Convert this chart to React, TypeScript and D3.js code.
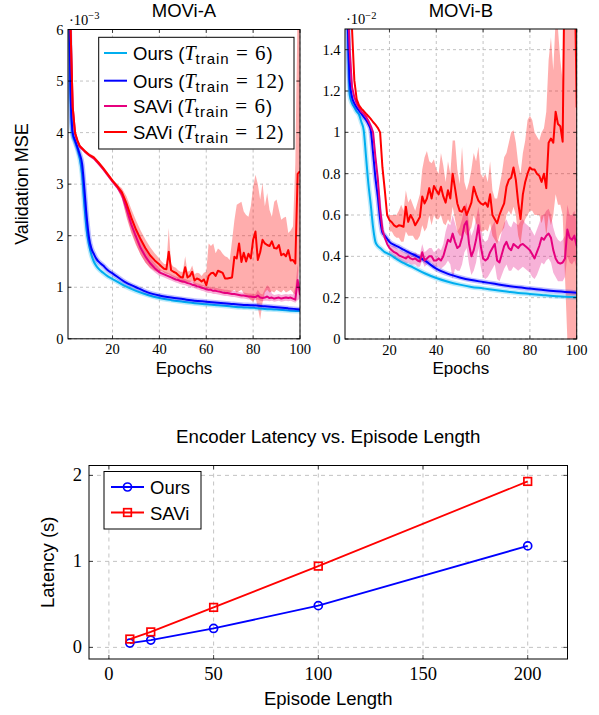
import React from 'react';
import * as d3 from 'd3';

// ---------------- DATA ----------------
// MOVi-A (values ×1e-3)
const oursEpochsA = [1,2,3,4,5,6,7,8,9,10,11,12,13,14,16,18,20,25,30,35,40,45,50,55,60,65,70,75,80,85,90,95,100];
const oursA12 = [8,5.0,4.0,3.85,3.72,3.58,3.4,2.9,2.35,1.95,1.75,1.65,1.56,1.5,1.42,1.33,1.27,1.11,1.0,0.9,0.84,0.8,0.77,0.74,0.72,0.7,0.68,0.66,0.65,0.63,0.61,0.59,0.57];
const oursA6 = [8,4.8,3.95,3.82,3.68,3.5,3.2,2.6,2.1,1.82,1.62,1.5,1.42,1.36,1.28,1.21,1.16,1.03,0.93,0.85,0.79,0.75,0.72,0.69,0.67,0.65,0.63,0.61,0.6,0.58,0.57,0.55,0.54];

const saviEpochsA = [1,2,3,4,5,6,8,10,12,14,16,18,20,22,24,26,28,30,32,34,36,38,40, ...d3.range(41, 101)];
const saviA12 = [9,6.2,4.5,4.0,3.85,3.74,3.65,3.57,3.52,3.42,3.31,3.19,3.07,2.96,2.84,2.62,2.35,2.12,1.93,1.76,1.62,1.52,1.44,
  1.40,1.36,1.35,1.69,1.33,1.30,1.28,1.24,1.20,1.19, 1.39,1.19,1.22,1.30,1.13,1.17,1.15,1.11,1.15,1.04,
  1.22,1.27,1.28,1.22,1.32,1.30,1.28,1.17,1.17,1.18, 1.19,1.59,1.56,1.85,1.49,1.67,1.50,1.65,1.56,1.92,
  2.08,1.53,1.68,1.92,1.85,1.82,1.80,1.89,1.76,1.75, 1.82,1.62,1.65,1.60,1.72,1.52,1.53,1.46,3.2,3.25];
const saviA12Lo = [9,6.2,4.47,3.97,3.82,3.71,3.62,3.54,3.49,3.39,3.28,3.16,3.04,2.92,2.72,2.35,2.05,1.82,1.63,1.48,1.38,1.32,1.28,
  1.32,1.28,1.26,1.25,1.22,1.20,1.18,1.15,1.10,1.08, 1.12,1.08,1.10,1.12,1.03,1.05,1.03,1.00,1.02,0.95,
  0.98,0.95,0.97,0.92,0.95,0.90,0.93,0.90,0.90,0.90, 0.92,0.95,0.90,0.92,0.95,0.88,0.85,0.80,0.75,0.72,
  0.80,0.60,0.37,0.70,0.90,0.95,0.90,0.92,0.90,0.95, 0.92,0.90,0.95,0.90,0.92,0.95,0.90,0.85,1.10,1.50];
const saviA12Hi = [9,6.2,4.53,4.03,3.88,3.77,3.68,3.6,3.55,3.45,3.34,3.22,3.1,3.0,2.92,2.76,2.52,2.3,2.1,1.93,1.78,1.66,1.56,
  1.50,1.45,1.45,2.15,1.45,1.40,1.38,1.33,1.30,1.30, 1.60,1.30,1.32,1.42,1.25,1.28,1.27,1.22,1.28,1.30,
  1.85,1.80,1.85,1.66,1.75,1.72,1.65,1.60,1.58,1.53, 1.90,2.30,2.60,2.63,2.66,2.47,2.40,2.37,2.57,2.95,
  3.18,3.00,2.70,3.02,2.57,2.83,2.50,2.37,2.66,2.70, 2.50,2.31,2.35,2.37,2.05,2.10,2.18,3.40,6.50,7.00];
const saviA6 = [9,6.2,4.5,3.98,3.84,3.73,3.64,3.56,3.5,3.4,3.29,3.17,3.05,2.94,2.8,2.52,2.22,1.98,1.76,1.6,1.47,1.37,1.29,
  1.27,1.25,1.23,1.21,1.19,1.17,1.15,1.14,1.12,1.11, 1.10,1.08,1.07,1.05,1.04,1.02,1.01,0.99,0.98,0.96,
  0.95,0.95,0.93,0.93,0.92,0.91,0.90,0.89,0.89,0.88, 0.87,0.87,0.86,0.85,0.84,0.84,0.83,0.82,0.82,0.81,
  0.81,0.84,0.80,0.79,0.80,0.82,0.79,0.80,0.78,0.79, 0.80,0.78,0.79,0.80,0.79,0.80,0.78,0.76,1.14,0.85];
const saviA6Lo = [9,6.2,4.47,3.95,3.81,3.7,3.61,3.53,3.47,3.37,3.26,3.14,3.02,2.9,2.72,2.38,2.08,1.84,1.63,1.48,1.37,1.29,1.22,
  1.21,1.19,1.17,1.15,1.13,1.11,1.09,1.08,1.06,1.05, 1.04,1.02,1.01,0.99,0.98,0.96,0.95,0.93,0.92,0.90,
  0.89,0.89,0.87,0.87,0.86,0.85,0.84,0.83,0.83,0.82, 0.81,0.81,0.80,0.79,0.78,0.78,0.77,0.76,0.76,0.75,
  0.75,0.76,0.74,0.73,0.74,0.74,0.73,0.74,0.72,0.73, 0.74,0.72,0.73,0.74,0.73,0.74,0.72,0.70,0.75,0.78];
const saviA6Hi = [9,6.2,4.53,4.01,3.87,3.76,3.67,3.59,3.53,3.43,3.32,3.2,3.08,2.98,2.88,2.66,2.38,2.14,1.92,1.74,1.58,1.47,1.37,
  1.33,1.31,1.29,1.27,1.25,1.23,1.21,1.20,1.18,1.17, 1.16,1.14,1.13,1.11,1.10,1.08,1.07,1.05,1.04,1.02,
  1.01,1.01,0.99,0.99,0.98,0.97,0.96,0.95,0.95,0.94, 0.93,0.93,0.92,0.91,0.90,0.90,0.89,0.88,0.88,0.87,
  0.87,0.95,0.88,0.86,0.96,1.04,1.00,0.88,0.85,0.86, 0.87,0.85,0.86,0.87,0.86,0.87,0.86,1.00,1.45,0.92];

// MOVi-B (values ×1e-2)
const oursEpochsB = [1,2,3,4,5,6,7,8,9,10,11,12,13,14,15,16,17,18,19,20,22,24,26,28,30,35,40,45,50,55,60,65,70,75,80,85,90,95,100];
const oursB6 = [2.0,1.6,1.18,1.14,1.12,1.1,1.085,1.05,1.01,0.88, 0.75,0.65,0.54,0.47,0.45,0.44,0.43,0.42,0.415,0.41,
  0.395,0.38,0.368,0.357,0.347,0.318,0.295,0.277,0.263,0.252, 0.245,0.237,0.23,0.223,0.218,0.213,0.208,0.205,0.202];
const oursB12 = [2.0,1.6,1.25,1.17,1.14,1.12,1.105,1.09,1.075,1.06, 1.04,1.01,0.9,0.78,0.69,0.58,0.515,0.5,0.485,0.47,
  0.455,0.445,0.432,0.42,0.41,0.38,0.34,0.315,0.298,0.285, 0.276,0.267,0.258,0.25,0.244,0.238,0.232,0.228,0.224];

const saviEpochsB = d3.range(1, 101);
const saviB12 = [2.2,1.9,1.65,1.5,1.25,1.16,1.13,1.115,1.103,1.09,
  1.078,1.065,1.05,1.037,1.022,1.0,0.83,0.72,0.6,0.575,
  0.565,0.55,0.543,0.55,0.548,0.543,0.64,0.567,0.6,0.58,
  0.55,0.57,0.59,0.69,0.656,0.68,0.73,0.68,0.74,0.72,
  0.7,0.737,0.69,0.66,0.72,0.68,0.8,0.73,0.656,0.62,
  0.616,0.64,0.6,0.63,0.66,0.737,0.7,0.67,0.656,0.65,
  0.66,0.64,0.7,0.6,0.58,0.56,0.6,0.63,0.656,0.737,
  0.77,0.78,0.83,0.77,0.66,0.58,0.7,0.76,0.8,0.83,
  0.82,0.82,0.8,0.79,0.76,0.8,0.73,0.95,0.97,0.95,
  1.1,1.04,1.03,0.955,2.0,2.2,2.2,2.1,1.9,1.12];
const saviB6 = [2.0,1.7,1.4,1.22,1.17,1.14,1.12,1.1,1.09,1.075,
  1.055,1.03,1.0,0.88,0.78,0.63,0.53,0.49,0.46,0.44,
  0.43,0.42,0.415,0.405,0.4,0.395,0.39,0.4,0.39,0.385,
  0.39,0.38,0.375,0.42,0.38,0.39,0.4,0.4,0.38,0.38,
  0.39,0.38,0.4,0.44,0.48,0.47,0.51,0.47,0.44,0.45,
  0.49,0.55,0.57,0.46,0.4,0.43,0.48,0.55,0.45,0.39,
  0.38,0.39,0.42,0.44,0.46,0.38,0.37,0.41,0.45,0.47,
  0.44,0.43,0.46,0.45,0.44,0.455,0.46,0.45,0.44,0.43,
  0.41,0.39,0.42,0.45,0.49,0.48,0.5,0.51,0.49,0.43,
  0.39,0.37,0.365,0.37,0.39,0.53,0.49,0.48,0.5,0.45];

const bandEpochsB = d3.range(20, 101);
const saviB12Hi = [0.6, 0.6,0.6,0.6,0.62,0.65,0.62,0.72,0.66,0.68,0.65,
  0.62,0.66,0.7,0.82,0.88,0.91,0.86,0.85,0.87,0.82,
  0.8,0.9,0.84,0.76,0.86,0.8,0.96,0.96,0.82,0.75,
  0.93,0.76,0.72,0.76,0.82,0.9,0.86,0.93,0.8,0.78,
  0.8,0.76,0.86,0.72,0.68,0.68,0.74,0.8,0.88,0.9,
  0.95,1.0,1.01,0.95,0.85,0.8,0.9,0.96,1.06,1.08,
  1.06,1.0,0.98,0.96,1.0,1.02,1.1,1.35,1.46,1.3,
  1.55,1.5,1.35,1.25,2.5,2.5,2.5,2.5,2.5,2.5];
const saviB12Lo = [0.52, 0.52,0.5,0.49,0.49,0.47,0.47,0.52,0.5,0.5,0.5,
  0.48,0.48,0.5,0.55,0.52,0.54,0.6,0.55,0.6,0.58,
  0.58,0.6,0.56,0.55,0.58,0.56,0.64,0.58,0.52,0.5,
  0.5,0.52,0.5,0.52,0.54,0.6,0.56,0.54,0.52,0.52,
  0.53,0.52,0.56,0.5,0.48,0.46,0.5,0.52,0.54,0.6,
  0.62,0.6,0.64,0.6,0.5,0.46,0.55,0.58,0.6,0.62,
  0.62,0.6,0.6,0.6,0.56,0.6,0.5,0.6,0.55,0.6,
  0.7,0.65,0.65,0.6,0.3,0,0,0,0,0];
const saviB6Hi = [0.46, 0.45,0.45,0.44,0.43,0.43,0.42,0.42,0.43,0.42,0.41,
  0.42,0.41,0.41,0.46,0.42,0.43,0.44,0.44,0.42,0.43,
  0.44,0.43,0.46,0.52,0.56,0.55,0.6,0.56,0.52,0.54,
  0.58,0.64,0.66,0.55,0.5,0.53,0.58,0.64,0.55,0.48,
  0.47,0.48,0.52,0.55,0.57,0.48,0.47,0.52,0.56,0.58,
  0.55,0.54,0.57,0.56,0.55,0.57,0.58,0.56,0.55,0.54,
  0.52,0.5,0.53,0.56,0.6,0.6,0.62,0.63,0.6,0.54,
  0.5,0.48,0.47,0.48,0.5,0.65,0.6,0.6,0.62,0.56];
const saviB6Lo = [0.41, 0.4,0.39,0.39,0.38,0.37,0.37,0.36,0.37,0.36,0.36,
  0.36,0.35,0.35,0.38,0.35,0.36,0.37,0.37,0.35,0.35,
  0.35,0.34,0.35,0.36,0.38,0.36,0.29,0.34,0.33,0.33,
  0.36,0.42,0.44,0.36,0.31,0.33,0.37,0.44,0.35,0.3,
  0.29,0.3,0.32,0.34,0.36,0.29,0.28,0.31,0.34,0.36,
  0.33,0.33,0.35,0.34,0.33,0.34,0.35,0.34,0.33,0.32,
  0.3,0.29,0.31,0.34,0.37,0.36,0.38,0.39,0.37,0.32,
  0.3,0.28,0.28,0.28,0.3,0.4,0.37,0.36,0.38,0.34];

const epochTicks = [20, 40, 60, 80, 100];
const yTicksA = [0, 1, 2, 3, 4, 5, 6];
const yTickLabelsA = ['0', '1', '2', '3', '4', '5', '6'];
const yTicksB = [0, 0.2, 0.4, 0.6, 0.8, 1, 1.2, 1.4];
const yTickLabelsB = ['0', '0.2', '0.4', '0.6', '0.8', '1', '1.2', '1.4'];

// Latency chart
const episodeLengths = [10, 20, 50, 100, 200];
const latencyOurs = [0.05, 0.085, 0.22, 0.485, 1.18];
const latencySAVi = [0.097, 0.18, 0.465, 0.945, 1.93];
const lengthTicks = [0, 50, 100, 150, 200];
const latencyTicks = [0, 1, 2];

// ---------------- STYLE ----------------
const SANS = "'Liberation Sans', Arial, sans-serif";
const SERIF = "'Liberation Serif', 'Times New Roman', serif";
const C_CYAN = '#00aeef';
const C_BLUE = '#0000ff';
const C_MAG = '#e6007e';
const C_RED = '#ff0000';
const GRID = '#b4b4b4';

type Series = { ex: number[]; ys: number[]; color: string; smooth?: boolean; halo?: boolean };
type Band = { ex: number[]; lo: number[]; hi: number[]; color: string; opacity: number };

function TopPanel(props: {
  id: string; x0: number; x1: number; y0: number; y1: number; yMax: number;
  yTicks: number[]; yLabels: string[]; exp: string; title: string;
  bands: Band[]; series: Series[];
}) {
  const { id, x0, x1, y0, y1, yMax } = props;
  const x = d3.scaleLinear().domain([1, 100]).range([x0, x1]);
  const y = d3.scaleLinear().domain([0, yMax]).range([y1, y0]);
  const cx = (x0 + x1) / 2;
  return (
    <g>
      <defs>
        <clipPath id={id}>
          <rect x={x0} y={y0} width={x1 - x0} height={y1 - y0} />
        </clipPath>
      </defs>
      {epochTicks.map((t) => (
        <line key={'gx' + t} x1={x(t)} x2={x(t)} y1={y0} y2={y1} stroke={GRID} strokeWidth={0.8} strokeDasharray="3,3" />
      ))}
      {props.yTicks.map((t) => (
        <line key={'gy' + t} x1={x0} x2={x1} y1={y(t)} y2={y(t)} stroke={GRID} strokeWidth={0.8} strokeDasharray="3,3" />
      ))}
      <g clipPath={`url(#${id})`}>
        {props.bands.map((b, i) => {
          const area = d3.area<number>()
            .x((_, k) => x(b.ex[k]))
            .y0((_, k) => y(b.lo[k]))
            .y1((_, k) => y(b.hi[k]));
          return <path key={'b' + i} d={area(b.lo) || ''} fill={b.color} fillOpacity={b.opacity} stroke="none" />;
        })}
        {props.series.map((s, i) => {
          const line = d3.line<number>()
            .x((_, k) => x(s.ex[k]))
            .y((v) => y(v))
            .curve(s.smooth ? d3.curveMonotoneX : d3.curveLinear);
          const d = line(s.ys) || '';
          return (
            <g key={'s' + i}>
              {s.halo && <path d={d} fill="none" stroke={s.color} strokeOpacity={0.25} strokeWidth={5} />}
              <path d={d} fill="none" stroke={s.color} strokeWidth={2} strokeLinejoin="round" />
            </g>
          );
        })}
      </g>
      <rect x={x0} y={y0} width={x1 - x0} height={y1 - y0} fill="none" stroke="#000" strokeWidth={1} />
      {epochTicks.map((t) => (
        <g key={'tx' + t}>
          <line x1={x(t)} x2={x(t)} y1={y1} y2={y1 - 3.5} stroke="#000" strokeWidth={0.7} />
          <line x1={x(t)} x2={x(t)} y1={y0} y2={y0 + 3.5} stroke="#000" strokeWidth={0.7} />
          <text x={x(t)} y={y1 + 15.5} textAnchor="middle" fontFamily={SERIF} fontSize={14.5}>{t}</text>
        </g>
      ))}
      {props.yTicks.map((t, i) => (
        <g key={'ty' + t}>
          <line x1={x0} x2={x0 + 3.5} y1={y(t)} y2={y(t)} stroke="#000" strokeWidth={0.7} />
          <line x1={x1} x2={x1 - 3.5} y1={y(t)} y2={y(t)} stroke="#000" strokeWidth={0.7} />
          <text x={x0 - 4.5} y={y(t) + 5} textAnchor="end" fontFamily={SERIF} fontSize={14.5}>{props.yLabels[i]}</text>
        </g>
      ))}
      <text x={x0 + 1} y={y0 - 5} fontFamily={SERIF} fontSize={14.5}>
        ·10<tspan fontSize={10.5} dy={-5.5}>{props.exp}</tspan>
      </text>
      <text x={cx} y={16.7} textAnchor="middle" fontFamily={SANS} fontSize={18.5}>{props.title}</text>
      <text x={cx} y={374} textAnchor="middle" fontFamily={SANS} fontSize={17}>Epochs</text>
    </g>
  );
}

function LegendEntry({ y, color, name, t }: { y: number; color: string; name: string; t: string }) {
  return (
    <g>
      <line x1={104} x2={127} y1={y} y2={y} stroke={color} strokeWidth={2} />
      <text x={133} y={y + 7} fontFamily={SANS} fontSize={18.5}>
        {name} (<tspan fontFamily={SERIF} fontStyle="italic" fontSize={20}>T</tspan>
        <tspan fontSize={15} letterSpacing={1} dy={4}>train</tspan>
        <tspan dy={-4} fontFamily={SERIF} fontSize={21} letterSpacing={1}>{' = ' + t}</tspan>)
      </text>
    </g>
  );
}

function LatencyChart() {
  const x0 = 89, x1 = 567.5, y0 = 465.5, y1 = 659;
  const x = d3.scaleLinear().domain([-9.5, 219]).range([x0, x1]);
  const y = d3.scaleLinear().domain([-0.135, 2.115]).range([y1, y0]);
  const line = d3.line<number>().x((_, k) => x(episodeLengths[k])).y((v) => y(v));
  return (
    <g>
      <text x={(x0 + x1) / 2} y={443} textAnchor="middle" fontFamily={SANS} fontSize={18.7}>Encoder Latency vs. Episode Length</text>
      {lengthTicks.map((t) => (
        <line key={'gx' + t} x1={x(t)} x2={x(t)} y1={y0} y2={y1} stroke={GRID} strokeWidth={0.8} strokeDasharray="4,4" />
      ))}
      {latencyTicks.map((t) => (
        <line key={'gy' + t} x1={x0} x2={x1} y1={y(t)} y2={y(t)} stroke={GRID} strokeWidth={0.8} strokeDasharray="4,4" />
      ))}
      <path d={line(latencyOurs) || ''} fill="none" stroke={C_BLUE} strokeWidth={1.8} />
      {latencyOurs.map((v, k) => (
        <circle key={'o' + k} cx={x(episodeLengths[k])} cy={y(v)} r={4} fill="none" stroke={C_BLUE} strokeWidth={1.7} />
      ))}
      <path d={line(latencySAVi) || ''} fill="none" stroke={C_RED} strokeWidth={1.8} />
      {latencySAVi.map((v, k) => (
        <rect key={'s' + k} x={x(episodeLengths[k]) - 3.8} y={y(v) - 3.8} width={7.6} height={7.6} fill="none" stroke={C_RED} strokeWidth={1.7} />
      ))}
      <rect x={x0} y={y0} width={x1 - x0} height={y1 - y0} fill="none" stroke="#000" strokeWidth={1} />
      {lengthTicks.map((t) => (
        <g key={'tx' + t}>
          <line x1={x(t)} x2={x(t)} y1={y1} y2={y1 - 4} stroke="#000" strokeWidth={0.7} />
          <line x1={x(t)} x2={x(t)} y1={y0} y2={y0 + 4} stroke="#000" strokeWidth={0.7} />
          <text x={x(t)} y={680} textAnchor="middle" fontFamily={SERIF} fontSize={18.5}>{t}</text>
        </g>
      ))}
      {latencyTicks.map((t) => (
        <g key={'ty' + t}>
          <line x1={x0} x2={x0 + 4} y1={y(t)} y2={y(t)} stroke="#000" strokeWidth={0.7} />
          <line x1={x1} x2={x1 - 4} y1={y(t)} y2={y(t)} stroke="#000" strokeWidth={0.7} />
          <text x={x0 - 7} y={y(t) + 6} textAnchor="end" fontFamily={SERIF} fontSize={18.5}>{t}</text>
        </g>
      ))}
      <text x={(x0 + x1) / 2} y={705} textAnchor="middle" fontFamily={SANS} fontSize={18.5}>Episode Length</text>
      <text transform={`translate(54,${(y0 + y1) / 2}) rotate(-90)`} textAnchor="middle" fontFamily={SANS} fontSize={18.5}>Latency (s)</text>
      <rect x={104} y={471.5} width={97} height={57.5} fill="#fff" stroke="#000" strokeWidth={1} />
      <line x1={111} x2={144} y1={487} y2={487} stroke={C_BLUE} strokeWidth={1.8} />
      <circle cx={127.5} cy={487} r={4} fill="none" stroke={C_BLUE} strokeWidth={1.7} />
      <text x={150} y={494} fontFamily={SANS} fontSize={18.5}>Ours</text>
      <line x1={111} x2={144} y1={512.5} y2={512.5} stroke={C_RED} strokeWidth={1.8} />
      <rect x={127.5 - 3.8} y={512.5 - 3.8} width={7.6} height={7.6} fill="none" stroke={C_RED} strokeWidth={1.7} />
      <text x={150} y={519.5} fontFamily={SANS} fontSize={18.5}>SAVi</text>
    </g>
  );
}

export default function App() {
  const bandsA: Band[] = [
    { ex: saviEpochsA, lo: saviA6Lo, hi: saviA6Hi, color: C_MAG, opacity: 0.3 },
    { ex: saviEpochsA, lo: saviA12Lo, hi: saviA12Hi, color: C_RED, opacity: 0.32 },
  ];
  const seriesA: Series[] = [
    { ex: oursEpochsA, ys: oursA6, color: C_CYAN, smooth: true, halo: true },
    { ex: oursEpochsA, ys: oursA12, color: C_BLUE, smooth: true, halo: true },
    { ex: saviEpochsA, ys: saviA6, color: C_MAG },
    { ex: saviEpochsA, ys: saviA12, color: C_RED },
  ];
  const bandsB: Band[] = [
    { ex: bandEpochsB, lo: saviB6Lo, hi: saviB6Hi, color: C_MAG, opacity: 0.3 },
    { ex: bandEpochsB, lo: saviB12Lo, hi: saviB12Hi, color: C_RED, opacity: 0.32 },
  ];
  const seriesB: Series[] = [
    { ex: oursEpochsB, ys: oursB6, color: C_CYAN, smooth: true, halo: true },
    { ex: oursEpochsB, ys: oursB12, color: C_BLUE, smooth: true, halo: true },
    { ex: saviEpochsB, ys: saviB6, color: C_MAG },
    { ex: saviEpochsB, ys: saviB12, color: C_RED },
  ];
  return (
    <svg width={599} height={715} viewBox="0 0 599 715"
      style={{ position: 'absolute', left: 0, top: 0, background: '#fff' }}>
      <rect x={0} y={0} width={599} height={715} fill="#fff" />
      <TopPanel id="clipA" x0={68} x1={300} y0={29.5} y1={338.8} yMax={6}
        yTicks={yTicksA} yLabels={yTickLabelsA} exp="−3" title="MOVi-A"
        bands={bandsA} series={seriesA} />
      <TopPanel id="clipB" x0={345} x1={576.7} y0={29} y1={339} yMax={1.5}
        yTicks={yTicksB} yLabels={yTickLabelsB} exp="−2" title="MOVi-B"
        bands={bandsB} series={seriesB} />
      <text transform={`translate(28,184) rotate(-90)`} textAnchor="middle" fontFamily={SANS} fontSize={18}>Validation MSE</text>
      <rect x={98.7} y={37.3} width={195.3} height={111.7} fill="#fff" stroke="#000" strokeWidth={1} />
      <LegendEntry y={53} color={C_CYAN} name="Ours" t="6" />
      <LegendEntry y={80.7} color={C_BLUE} name="Ours" t="12" />
      <LegendEntry y={106} color={C_MAG} name="SAVi" t="6" />
      <LegendEntry y={132} color={C_RED} name="SAVi" t="12" />
      <LatencyChart />
    </svg>
  );
}
